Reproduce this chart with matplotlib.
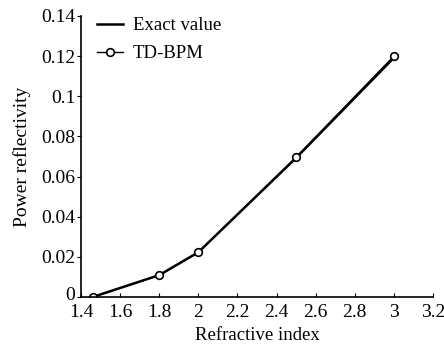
import matplotlib
matplotlib.use("Agg")
import matplotlib.pyplot as plt
import matplotlib.transforms as mtransforms

plt.rcParams['font.family'] = ['Liberation Serif', 'DejaVu Serif']

# data
n_exact = [1.46, 1.8, 2.0, 2.5, 3.0]
r_exact = [0.0, 0.0109, 0.0223, 0.0693, 0.1192]
n_td = [1.46, 1.8, 2.0, 2.5, 3.0]
r_td = [0.0, 0.0108, 0.0222, 0.0697, 0.1200]

xticks = [1.4, 1.6, 1.8, 2.0, 2.2, 2.4, 2.6, 2.8, 3.0, 3.2]
xticklabels = ["1.4", "1.6", "1.8", "2", "2.2", "2.4", "2.6", "2.8", "3", "3.2"]
yticks = [0, 0.02, 0.04, 0.06, 0.08, 0.1, 0.12, 0.14]
yticklabels = ["0", "0.02", "0.04", "0.06", "0.08", "0.1", "0.12", "0.14"]

fig = plt.figure(figsize=(4.44, 3.56), dpi=100)
ax = fig.add_axes([81/444, 1 - 297/356, (433-81)/444, (297-16)/356])

ax.plot(n_exact, r_exact, color="black", lw=1.8, label="Exact value")
ax.plot(n_td, r_td, color="black", lw=1.0, marker="o", ms=5.5,
        mfc="white", mec="black", mew=1.2, label="TD-BPM")

ax.set_xlim(1.4, 3.2)
ax.set_ylim(0, 0.14)
ax.set_xticks(xticks)
ax.set_xticklabels(xticklabels)
ax.set_yticks(yticks)
ax.set_yticklabels(yticklabels)
ax.tick_params(axis="x", direction="in", length=3, labelsize=14, pad=5)
ax.tick_params(axis="y", direction="out", length=3, labelsize=14, pad=1)
ax.spines["top"].set_visible(False)
ax.spines["right"].set_visible(False)
ax.spines["left"].set_linewidth(1.2)
ax.spines["bottom"].set_linewidth(1.2)

# nudge the "0" label up a little so it does not touch "1.4"
zero = ax.get_yticklabels()[0]
zero.set_transform(zero.get_transform() +
                   mtransforms.ScaledTranslation(0, 3/100, fig.dpi_scale_trans))

ax.set_xlabel("Refractive index", fontsize=13.5, labelpad=4)
ax.set_ylabel("Power reflectivity", fontsize=14, labelpad=7)

ax.legend(loc="upper left", frameon=False, handlelength=1.4,
          handletextpad=0.5, borderpad=0, borderaxespad=0,
          labelspacing=0.6, prop={"size": 13.5},
          bbox_to_anchor=(97/444, 1 - 17/356), bbox_transform=fig.transFigure)

fig.savefig("out.png", dpi=100)
